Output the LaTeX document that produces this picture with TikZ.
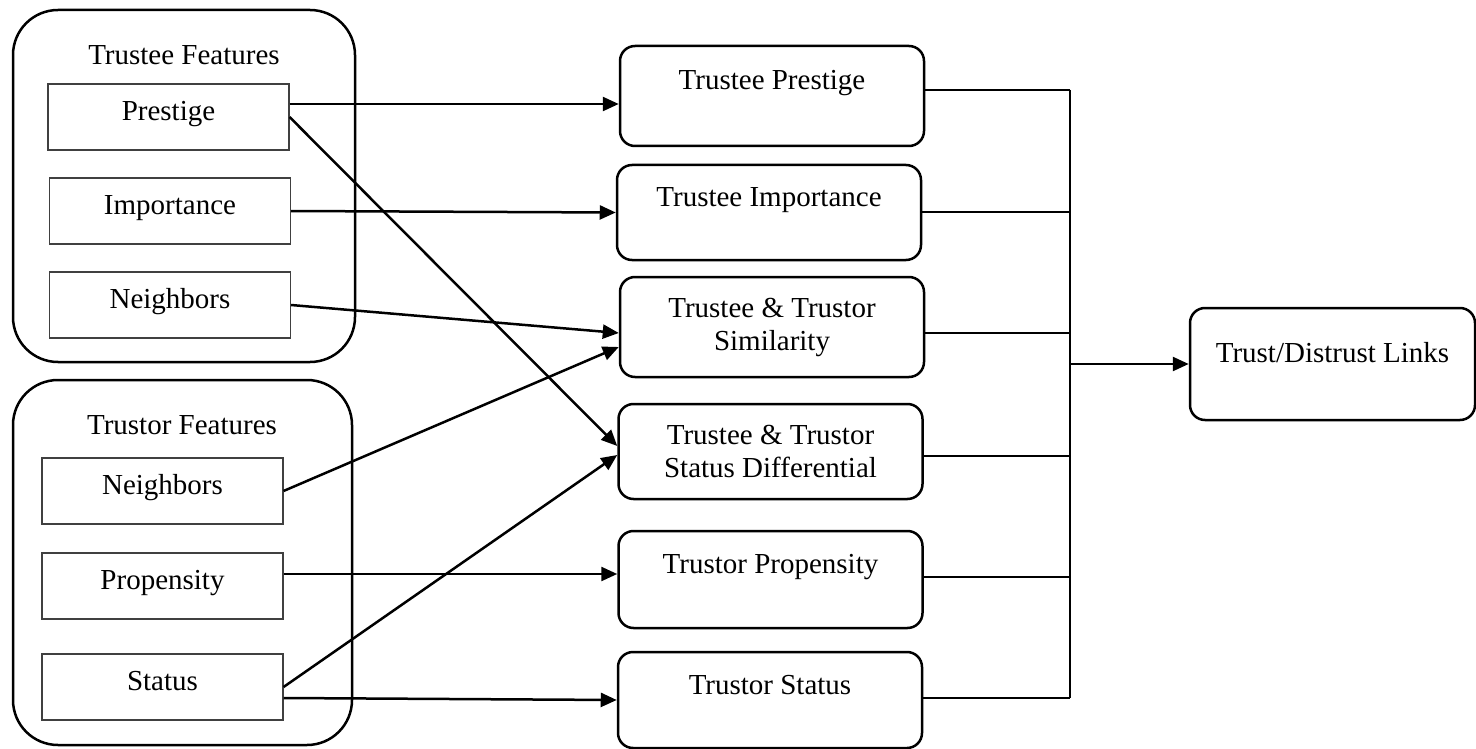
\documentclass[tikz,border=0pt]{standalone}
\usepackage{fontspec}
\setmainfont{Liberation Serif}
\usetikzlibrary{arrows.meta}

\begin{document}
\begin{tikzpicture}[x=1pt,y=-1pt,
    font=\fontsize{29}{33}\selectfont,
    groupbox/.style={draw, line width=2.5pt, rounded corners=45pt, inner sep=0pt},
    featbox/.style={draw=black!75, line width=1.1pt, minimum width=241pt, minimum height=66pt,
      inner sep=0pt, text height=20pt, text depth=13pt},
    midbox/.style={draw, line width=2.5pt, rounded corners=15pt, minimum width=304pt, inner sep=0pt},
    oneline/.style={text height=20pt, text depth=32pt},
    arr/.style={line width=2.5pt, -{Triangle[length=16pt,width=14pt]}},
    bar/.style={line width=2pt}]
    \useasboundingbox (0,0) rectangle (1476,749);

    \node[groupbox, minimum width=342pt, minimum height=352pt] (tee) at (184,186) {};
    \node (tee-title) at (184,55) {Trustee Features};
    \node[featbox] (pres) at (168.5,117) {Prestige};
    \node[featbox] (imp) at (170,211) {Importance};
    \node[featbox] (nbr) at (170,305) {Neighbors};

    \node[groupbox, minimum width=339pt, minimum height=365pt] (tor) at (182.5,562.5) {};
    \node (tor-title) at (182,425) {Trustor Features};
    \node[featbox] (tnbr) at (162.5,491) {Neighbors};
    \node[featbox] (prop) at (162.5,586) {Propensity};
    \node[featbox] (stat) at (162.5,687) {Status};

    \node[midbox, oneline, minimum height=100pt] (tp) at (772,96) {Trustee Prestige};
    \node[midbox, oneline, minimum height=95pt] (tim) at (769,212.5) {Trustee Importance};
    \node[midbox, align=center, minimum height=100pt] (tsim) at (772,327) {Trustee \& Trustor\\Similarity};
    \node[midbox, align=center, minimum height=95pt] (tsd) at (770.5,451.5) {Trustee \& Trustor\\Status Differential};
    \node[midbox, oneline, minimum height=97pt] (tpro) at (770.5,579.5) {Trustor Propensity};
    \node[midbox, oneline, minimum height=96pt] (tsta) at (770,700) {Trustor Status};

    \node[midbox, minimum width=285pt, minimum height=112pt, text height=20pt, text depth=24pt] (out) at (1332.5,364) {Trust/Distrust Links};

    \draw[arr] ([yshift=13pt]pres.east) -- ([yshift=-8pt]tp.west);
    \draw[arr] (pres.east) -- ([yshift=5.5pt]tsd.west);
    \draw[arr] (imp.east) -- (tim.west);
    \draw[arr] (nbr.east) -- ([yshift=-6pt]tsim.west);
    \draw[arr] (tnbr.east) -- ([yshift=-20pt]tsim.west);
    \draw[arr] ([yshift=12pt]prop.east) -- ([yshift=5.5pt]tpro.west);
    \draw[arr] (stat.east) -- ([yshift=-3.5pt]tsd.west);
    \draw[arr] ([yshift=-11pt]stat.east) -- (tsta.west);

    \coordinate (bus) at (1070,0);
    \foreach \n/\s in {tp/6,tim/0.5,tsim/-6,tsd/-4.5,tpro/2.5,tsta/2} {
      \coordinate (\n-o) at ([yshift=\s pt]\n.east);
      \draw[bar] (\n-o) -- (\n-o -| bus);
    }
    \draw[bar] (tp-o -| bus) -- (tsta-o -| bus);
    \draw[arr] (bus |- out.west) -- (out.west);
\end{tikzpicture}
\end{document}
